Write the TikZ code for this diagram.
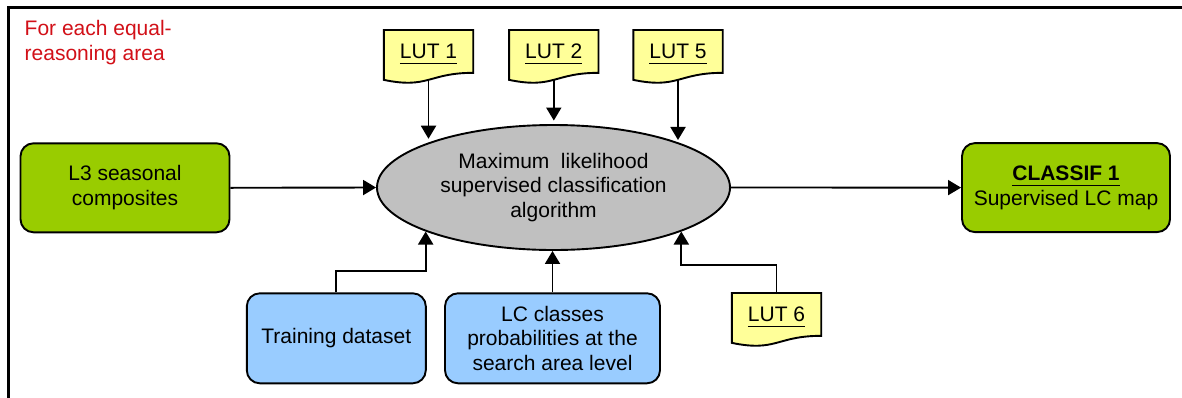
\documentclass[tikz,border=0pt]{standalone}
\usepackage{fontspec}
\setmainfont{Liberation Sans}
\usetikzlibrary{arrows.meta,calc,shapes.geometric,backgrounds}
\definecolor{boxgreen}{HTML}{99CC00}
\definecolor{boxblue}{HTML}{99CCFF}
\definecolor{lutyellow}{HTML}{FFFF99}
\definecolor{algogray}{HTML}{C0C0C0}
\definecolor{notered}{RGB}{210,16,24}
% underline with a rule set a few points below the baseline
\newcommand\lutul[1]{\setbox0\hbox{#1}\rlap{\rule[-5.6pt]{\wd0}{1.6pt}}\box0}
% document-shaped backdrop (wavy lower edge) behind a rectangular node
\newcommand\docshape[1]{%
  \begin{scope}[on background layer]
    \path[fill=lutyellow, draw=black, line width=1.9pt, line join=miter]
      (#1.north west) -- (#1.north east)
      -- ($(#1.north east)!0.802!(#1.south east)$)
      .. controls ($(#1.north)!0.802!(#1.south)$) and ($(#1.north)!1.108!(#1.south)$)
      .. ($(#1.north west)!0.934!(#1.south west)$) -- cycle;
  \end{scope}}
\begin{document}
\begin{tikzpicture}[x=1pt,y=-1pt,
  txt/.style={font=\fontsize{21}{24.5}\selectfont, align=center},
  rbox/.style={draw, line width=1.9pt, rounded corners=13pt, inner sep=0pt, txt},
  greenbox/.style={rbox, fill=boxgreen, minimum width=209pt, minimum height=89pt},
  bluebox/.style={rbox, fill=boxblue, minimum height=90pt},
  lutbox/.style={anchor=north, minimum width=89pt, minimum height=53pt, inner sep=0pt},
  luttext/.style={anchor=base, inner sep=0pt, font=\fontsize{21}{24.5}\selectfont},
  conn/.style={line width=1.9pt, -{Triangle[width=15pt,length=13pt]}}]
\useasboundingbox (0,0) rectangle (1182,397);
\begin{scope}[on background layer]
  \fill[white] (0,0) rectangle (1182,397);
\end{scope}

% outer frame
\draw[line width=2.6pt] (8.7,402) -- (8.7,7.7) -- (1186,7.7);

% note in the corner
\node[anchor=base west, inner sep=0pt, align=left, text=notered,
      font=\fontsize{21}{25}\selectfont] (note) at (24.5,60)
  {For each equal-\\reasoning area};

% central algorithm
\node[ellipse, draw, line width=1.9pt, fill=algogray, minimum width=353pt,
      minimum height=125pt, inner sep=0pt, txt] (ell) at (553.5,187.5)
  {Maximum\hspace{0.55em}likelihood\\supervised classification\\algorithm};

% input and output boxes
\node[greenbox] (l3) at (125,187.8) {L3 seasonal\\composites};
\node[greenbox, minimum width=208pt] (classif) at (1066,187.6)
  {\lutul{\bfseries CLASSIF 1}\\Supervised LC map};
\node[bluebox, minimum width=179pt] (train) at (336.3,338.3) {Training dataset};
\node[bluebox, minimum width=215pt] (lc) at (552.5,338.3)
  {LC classes\\probabilities at the\\search area level};

% look-up tables
\node[lutbox] (lut1) at (428.5,30) {};
\node[lutbox] (lut2) at (553.8,30) {};
\node[lutbox] (lut5) at (678,30) {};
\node[lutbox] (lut6) at (776.5,293) {};
\docshape{lut1}\docshape{lut2}\docshape{lut5}\docshape{lut6}
\node[luttext] (lut1t) at ([yshift=-28.7pt]lut1.north) {\lutul{LUT 1}};
\node[luttext] (lut2t) at ([yshift=-28.7pt]lut2.north) {\lutul{LUT 2}};
\node[luttext] (lut5t) at ([yshift=-28.7pt]lut5.north) {\lutul{LUT 5}};
\node[luttext] (lut6t) at ([yshift=-28.7pt]lut6.north) {\lutul{LUT 6}};

% connectors
\draw[conn] (l3.east) -- (ell.west);
\draw[conn] (ell.east) -- (classif.west);
\draw[conn] ([yshift=3.5pt]lut1.south) -- ([yshift=3.5pt]lut1.south |- ell.160.42);
\draw[conn] ([yshift=3.5pt]lut2.south) -- ([yshift=3.5pt]lut2.south |- ell.north);
\draw[conn] ([yshift=3.5pt]lut5.south) -- ([yshift=3.5pt]lut5.south |- ell.19.58);
\draw[conn] (train.north) -- ++(0,-21.6) -| (ell.199.58);
\draw[conn] (lc.north) -- (lc.north |- ell.south);
\draw[conn] ([yshift=-1pt]lut6.north) -- ++(0,-29) -| (ell.-19.58);
\end{tikzpicture}
\end{document}
